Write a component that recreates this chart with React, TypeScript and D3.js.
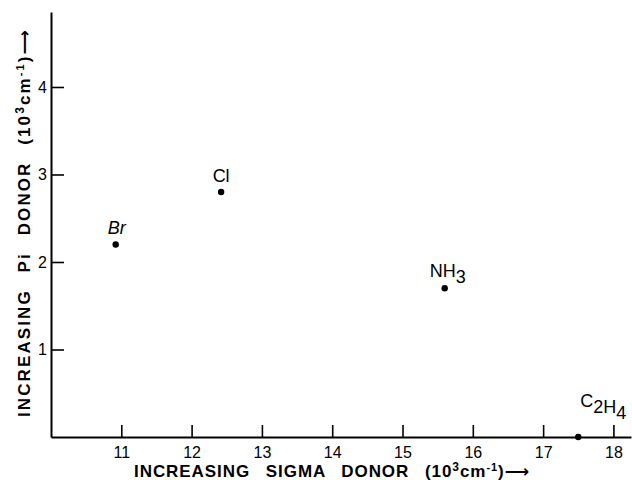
import React, { useEffect, useRef } from 'react';
import * as d3 from 'd3';

// values (units of 10^3 cm^-1)
const ligands = ['Br', 'Cl', 'NH3', 'C2H4'];
const sigmaDonor = [10.92, 12.42, 15.6, 17.5];
const piDonor = [2.2, 2.8, 1.7, 0];
const xTickValues = [11, 12, 13, 14, 15, 16, 17, 18];
const yTickValues = [1, 2, 3, 4];

// label placement relative to each dot
const labelOffset: Record<string, { dx: number; dy: number; anchor: string; italic?: boolean }> = {
  Br: { dx: 1, dy: -10, anchor: 'middle', italic: true },
  Cl: { dx: 0, dy: -10, anchor: 'middle' },
  NH3: { dx: -15, dy: -11, anchor: 'start' },
  C2H4: { dx: 2, dy: -30, anchor: 'start' },
};

const W = 632;
const H = 480;
const FONT = '"Liberation Sans", "DejaVu Sans", sans-serif';

const App = () => {
  const ref = useRef<SVGSVGElement>(null);

  useEffect(() => {
    const svg = d3.select(ref.current);
    svg.selectAll('*').remove();

    const x = d3.scaleLinear().domain([10, 18.25]).range([51, 631]);
    const y = d3.scaleLinear().domain([0, 4.857]).range([437, 12]);

    // x axis, ticks pointing up into the plot
    const gx = svg.append('g')
      .attr('transform', `translate(0,${y(0)})`)
      .call(d3.axisBottom(x).tickValues(xTickValues).tickSizeInner(-12).tickSizeOuter(0).tickPadding(10).tickFormat(d3.format('d')));
    gx.select('.domain').attr('stroke', '#000').attr('stroke-width', 2);
    gx.selectAll('.tick line').attr('stroke', '#000').attr('stroke-width', 1.6);
    gx.selectAll('.tick text').attr('font-family', FONT).attr('font-size', 16).attr('fill', '#000');

    // y axis, ticks pointing right
    const gy = svg.append('g')
      .attr('transform', `translate(${x(10)},0)`)
      .call(d3.axisLeft(y).tickValues(yTickValues).tickSizeInner(-13).tickSizeOuter(0).tickPadding(4).tickFormat(d3.format('d')));
    gy.select('.domain').attr('stroke', '#000').attr('stroke-width', 2);
    gy.selectAll('.tick line').attr('stroke', '#000').attr('stroke-width', 1.6);
    gy.selectAll('.tick text').attr('font-family', FONT).attr('font-size', 16).attr('fill', '#000');

    // points
    svg.selectAll('circle.pt')
      .data(ligands)
      .enter()
      .append('circle')
      .attr('class', 'pt')
      .attr('cx', (_, i) => x(sigmaDonor[i]))
      .attr('cy', (_, i) => y(piDonor[i]))
      .attr('r', 3.2)
      .attr('fill', '#000');

    // point labels with subscripted digits
    ligands.forEach((name, i) => {
      const o = labelOffset[name];
      const t = svg.append('text')
        .attr('x', x(sigmaDonor[i]) + o.dx)
        .attr('y', y(piDonor[i]) + o.dy)
        .attr('text-anchor', o.anchor)
        .attr('font-family', FONT)
        .attr('font-size', 18)
        .attr('font-style', o.italic ? 'italic' : 'normal')
        .attr('fill', '#000');
      name.split(/(\d)/).filter(s => s !== '').forEach(part => {
        if (/\d/.test(part)) {
          t.append('tspan').attr('dy', 6).text(part);
          t.append('tspan').attr('dy', -6).text('');
        } else {
          t.append('tspan').text(part);
        }
      });
    });

    // axis titles, stretched to the lettering's length
    const title = (g: d3.Selection<SVGTextElement, unknown, null, undefined>, first: string, target: number) => {
      g.attr('font-family', FONT).attr('font-size', 17).attr('font-weight', 'bold')
        .attr('fill', '#000').attr('word-spacing', 10).attr('xml:space', 'preserve');
      g.append('tspan').text(first + ' (10');
      g.append('tspan').attr('dy', -6).attr('font-size', 12).text('3');
      g.append('tspan').attr('dy', 6).text('cm');
      g.append('tspan').attr('dy', -6).attr('font-size', 11).text('-1');
      g.append('tspan').attr('dy', 6).text(')\u27F6');
      const node = g.node() as SVGTextElement;
      const len = node.getComputedTextLength();
      const chars = (node.textContent || '').length;
      if (len > 0) g.attr('letter-spacing', Math.max(0, (target - len) / chars));
    };

    title(svg.append('text').attr('x', 134).attr('y', 477), 'INCREASING SIGMA DONOR', 396);
    title(svg.append('text').attr('transform', 'translate(30,417) rotate(-90)'), 'INCREASING Pi DONOR', 389);
  }, []);

  return (
    <svg ref={ref} width={W} height={H} style={{ position: 'absolute', left: 0, top: 0, background: '#fff' }} />
  );
};

export default App;
